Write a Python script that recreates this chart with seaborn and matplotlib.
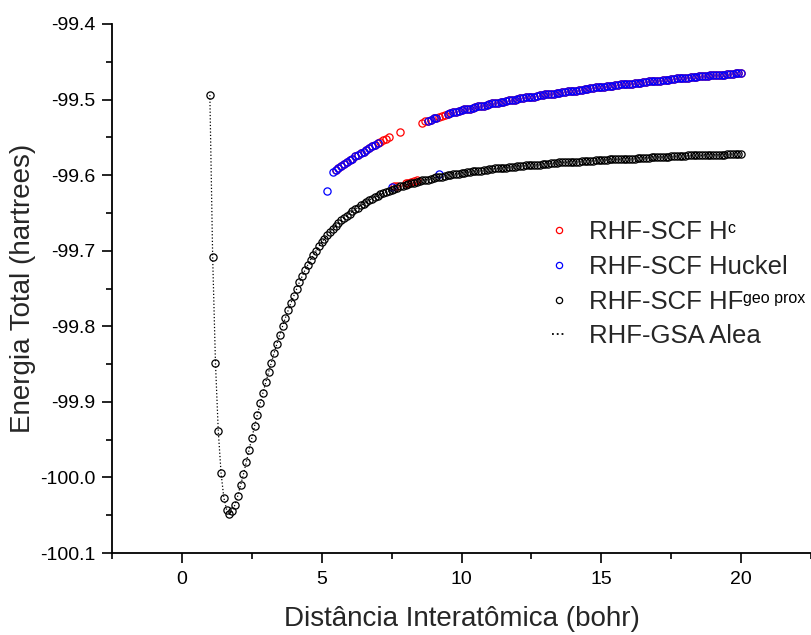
import numpy as np
import pandas as pd
import matplotlib
matplotlib.use("Agg")
import matplotlib.pyplot as plt
import seaborn as sns
from matplotlib.lines import Line2D
from matplotlib.ticker import MultipleLocator, FormatStrFormatter

# ---------------- data ----------------
# sampling grid of the scans (bohr)
hf_distance = np.round(np.arange(1.0, 20.05, 0.1), 1)
hf_energy = [
    -99.494, -99.708, -99.848, -99.938, -99.994, -100.027, -100.043, -100.049, -100.045, -100.036,
    -100.024, -100.010, -99.996, -99.980, -99.964, -99.948, -99.932, -99.917, -99.902, -99.888,
    -99.874, -99.861, -99.848, -99.835, -99.823, -99.811, -99.800, -99.789, -99.779, -99.769,
    -99.760, -99.751, -99.742, -99.734, -99.726, -99.719, -99.712, -99.706, -99.700, -99.694,
    -99.689, -99.684, -99.679, -99.675, -99.671, -99.667, -99.663, -99.660, -99.657, -99.654,
    -99.651, -99.648, -99.645, -99.643, -99.640, -99.638, -99.635, -99.633, -99.631, -99.629,
    -99.627, -99.625, -99.624, -99.622, -99.621, -99.619, -99.618, -99.617, -99.615, -99.614,
    -99.613, -99.612, -99.611, -99.610, -99.609, -99.608, -99.607, -99.606, -99.606, -99.605,
    -99.604, -99.603, -99.602, -99.602, -99.601, -99.600, -99.600, -99.599, -99.598, -99.598,
    -99.597, -99.597, -99.596, -99.596, -99.595, -99.595, -99.594, -99.594, -99.593, -99.593,
    -99.592, -99.592, -99.591, -99.591, -99.591, -99.590, -99.590, -99.589, -99.589, -99.589,
    -99.588, -99.588, -99.588, -99.587, -99.587, -99.587, -99.586, -99.586, -99.586, -99.585,
    -99.585, -99.585, -99.584, -99.584, -99.584, -99.583, -99.583, -99.583, -99.583, -99.582,
    -99.582, -99.582, -99.582, -99.581, -99.581, -99.581, -99.581, -99.581, -99.580, -99.580,
    -99.580, -99.580, -99.580, -99.579, -99.579, -99.579, -99.579, -99.579, -99.578, -99.578,
    -99.578, -99.578, -99.578, -99.577, -99.577, -99.577, -99.577, -99.577, -99.576, -99.576,
    -99.576, -99.576, -99.576, -99.576, -99.576, -99.575, -99.575, -99.575, -99.575, -99.575,
    -99.575, -99.574, -99.574, -99.574, -99.574, -99.574, -99.574, -99.573, -99.573, -99.573,
    -99.573, -99.573, -99.573, -99.573, -99.573, -99.572, -99.572, -99.572, -99.572, -99.572,
    -99.572,
]
alea_energy = list(hf_energy)

# upper (excited) branch reached by the H^c and Huckel guesses
upper_distance = np.round(np.arange(5.4, 20.05, 0.1), 1)
upper_energy = [
    -99.596, -99.593, -99.590, -99.588, -99.585, -99.583, -99.580, -99.578, -99.575, -99.573,
    -99.571, -99.569, -99.567, -99.564, -99.562, -99.560, -99.558, -99.556, -99.554, -99.552,
    -99.550, -99.548, -99.547, -99.545, -99.543, -99.541, -99.540, -99.538, -99.537, -99.535,
    -99.534, -99.532, -99.531, -99.529, -99.528, -99.527, -99.525, -99.524, -99.523, -99.522,
    -99.520, -99.519, -99.518, -99.517, -99.516, -99.515, -99.514, -99.513, -99.512, -99.512,
    -99.511, -99.510, -99.509, -99.508, -99.508, -99.507, -99.506, -99.505, -99.505, -99.504,
    -99.503, -99.503, -99.502, -99.501, -99.500, -99.500, -99.499, -99.498, -99.498, -99.497,
    -99.497, -99.496, -99.496, -99.495, -99.494, -99.494, -99.493, -99.493, -99.492, -99.492,
    -99.491, -99.491, -99.490, -99.490, -99.489, -99.489, -99.488, -99.488, -99.487, -99.487,
    -99.486, -99.486, -99.485, -99.485, -99.484, -99.484, -99.483, -99.483, -99.482, -99.482,
    -99.482, -99.481, -99.481, -99.480, -99.480, -99.480, -99.479, -99.479, -99.478, -99.478,
    -99.478, -99.477, -99.477, -99.476, -99.476, -99.476, -99.475, -99.475, -99.474, -99.474,
    -99.474, -99.473, -99.473, -99.472, -99.472, -99.472, -99.471, -99.471, -99.470, -99.470,
    -99.470, -99.469, -99.469, -99.469, -99.469, -99.468, -99.468, -99.468, -99.467, -99.467,
    -99.467, -99.466, -99.466, -99.466, -99.465, -99.465, -99.465,
]

# H^c guess: first distance, points that fell onto the ground branch, points not shown
hc_start = 5.5
hc_lower_distance = [7.6, 7.7, 8.0, 8.1, 8.2, 8.3, 8.4]
hc_lower_energy = [-99.615, -99.614, -99.611, -99.610, -99.609, -99.608, -99.607]
hc_absent = [7.5, 7.9, 8.5]

# Huckel guess
huckel_start = 5.4
huckel_lower_distance = [5.2, 7.5, 9.2]
huckel_lower_energy = [-99.621, -99.616, -99.599]
huckel_absent = [7.1, 7.2, 7.3, 7.4, 7.6, 7.7, 7.8, 7.9, 8.0, 8.1, 8.2, 8.3, 8.4, 8.5, 8.6, 8.7,
                 9.3, 9.4]

# legend texts: base text and superscript
legend_base = ["RHF-SCF H", "RHF-SCF Huckel", "RHF-SCF HF", "RHF-GSA Alea"]
legend_sup = ["c", "", "geo prox", ""]


def build_series(start, lower_d, lower_e, absent):
    xs, ys = [], []
    for d, e in zip(upper_distance, upper_energy):
        if d < start - 1e-9 or any(abs(d - a) < 1e-6 for a in absent + lower_d):
            continue
        xs.append(d)
        ys.append(e)
    xs += list(lower_d)
    ys += list(lower_e)
    return pd.DataFrame({"d": xs, "E": ys})


hc_df = build_series(hc_start, hc_lower_distance, hc_lower_energy, hc_absent)
huckel_df = build_series(huckel_start, huckel_lower_distance, huckel_lower_energy, huckel_absent)
hf_df = pd.DataFrame({"d": hf_distance, "E": hf_energy})
alea_df = pd.DataFrame({"d": hf_distance, "E": alea_energy})

# ---------------- plotting ----------------
sns.set_theme(style="ticks")
plt.rcParams["font.family"] = ["Liberation Sans", "DejaVu Sans"]
plt.rcParams["axes.unicode_minus"] = False

fig = plt.figure(figsize=(8.11, 6.35), dpi=100)
ax = fig.add_axes([112 / 811, 82 / 635, (811 - 112) / 811, (553 - 24) / 635])

ms = 5.2
mew = 0.9
sns.lineplot(data=hc_df, x="d", y="E", ax=ax, estimator=None, sort=False,
             marker="o", linestyle="", markersize=ms, markerfacecolor="none",
             markeredgecolor="#ff0000", markeredgewidth=mew, color="#ff0000")
sns.lineplot(data=huckel_df, x="d", y="E", ax=ax, estimator=None, sort=False,
             marker="o", linestyle="", markersize=ms, markerfacecolor="none",
             markeredgecolor="#0000ff", markeredgewidth=mew, color="#0000ff")
sns.lineplot(data=hf_df, x="d", y="E", ax=ax, estimator=None, sort=False,
             marker="o", linestyle="", markersize=ms, markerfacecolor="none",
             markeredgecolor="black", markeredgewidth=mew, color="black")
sns.lineplot(data=alea_df, x="d", y="E", ax=ax, estimator=None, sort=False,
             linestyle=":", linewidth=0.9, color="black")

ax.set_xlim(-2.5, 22.5)
ax.set_ylim(-100.1, -99.4)
ax.xaxis.set_major_locator(MultipleLocator(5))
ax.xaxis.set_minor_locator(MultipleLocator(2.5))
ax.yaxis.set_major_locator(MultipleLocator(0.1))
ax.yaxis.set_minor_locator(MultipleLocator(0.05))
ax.yaxis.set_major_formatter(FormatStrFormatter("%.1f"))

for side in ("top", "right"):
    ax.spines[side].set_visible(False)
for side in ("left", "bottom"):
    ax.spines[side].set_linewidth(1.3)
    ax.spines[side].set_color("black")
ax.tick_params(which="major", direction="out", length=7, width=1.2, colors="black",
               labelsize=14)
ax.tick_params(axis="x", which="major", pad=6)
ax.tick_params(axis="y", which="major", pad=5)
ax.tick_params(which="minor", direction="out", length=4, width=1.2, colors="black")

ax.set_xlabel("Distância Interatômica (bohr)", fontsize=20, labelpad=13)
ax.set_ylabel("Energia Total (hartrees)", fontsize=20, labelpad=3)

handles = [
    Line2D([], [], marker="o", linestyle="", markersize=4.5, markerfacecolor="none",
           markeredgecolor="#ff0000", markeredgewidth=0.9),
    Line2D([], [], marker="o", linestyle="", markersize=4.5, markerfacecolor="none",
           markeredgecolor="#0000ff", markeredgewidth=0.9),
    Line2D([], [], marker="o", linestyle="", markersize=4.5, markerfacecolor="none",
           markeredgecolor="black", markeredgewidth=0.9),
    Line2D([], [], linestyle=":", linewidth=1.3, color="black"),
]
leg = fig.legend(handles, legend_base, loc="upper left",
                 bbox_to_anchor=(552 / 811, 1 - 220 / 635),
                 frameon=False, fontsize=18.5, handlelength=0.55, handletextpad=0.9,
                 borderpad=0, borderaxespad=0, labelspacing=0.42)

# superscripts of the legend entries, placed right after their base text
fig.canvas.draw()
renderer = fig.canvas.get_renderer()
inv = fig.transFigure.inverted()
for txt, sup in zip(leg.get_texts(), legend_sup):
    if not sup:
        continue
    bb = txt.get_window_extent(renderer)
    x0, y0 = inv.transform((bb.x1 - 1, bb.y1 - 1))
    fig.text(x0, y0, sup, fontsize=11.5, ha="left", va="top", color="black")

fig.savefig("out.png", dpi=100)
